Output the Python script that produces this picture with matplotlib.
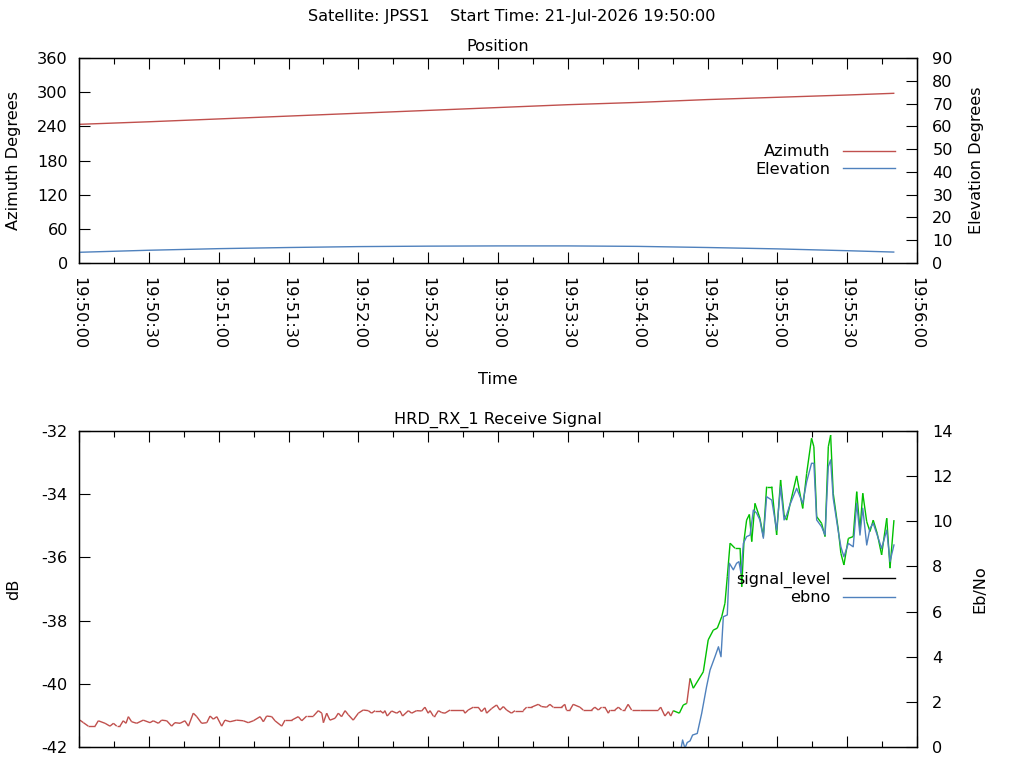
import numpy as np
import matplotlib
matplotlib.use("Agg")
import matplotlib.pyplot as plt
from matplotlib.collections import LineCollection
from matplotlib.lines import Line2D
from matplotlib.ticker import MultipleLocator, FuncFormatter, NullFormatter

# Satellite pass data (seconds after 19:50:00)
start_h, start_m = 19, 50
pos_t = [0, 30, 60, 90, 120, 150, 180, 210, 240, 270, 300, 330, 350]
azimuth = [243.5, 248, 253, 258, 263, 268, 273, 278, 282, 287, 291, 295, 298]
elevation = [4.7, 5.6, 6.3, 6.8, 7.2, 7.4, 7.5, 7.5, 7.3, 6.8, 6.2, 5.4, 4.8]

sig_t = [0.4, 1.9, 4.0, 6.9, 8.3, 11.2, 13.3, 14.8, 16.2, 17.6, 19.0, 20.2, 21.2, 22.6,
         24.8, 27.6, 30.5, 31.9, 34.1, 35.5, 37.7, 39.8, 41.2, 43.4, 45.5, 47.0, 49.1,
         50.6, 52.7, 54.9, 56.3, 57.7, 59.2, 61.3, 62.7, 64.9, 67.7, 70.6, 72.7, 74.9,
         77.8, 79.2, 80.6, 82.8, 84.2, 87.1, 88.5, 91.4, 94.2, 95.7, 97.8, 100.7, 102.8,
         104.3, 105.0, 106.4, 107.8, 110.0, 111.4, 112.8, 114.3, 115.7, 117.8, 120.0,
         122.1, 124.3, 125.7, 127.2, 129.3, 130.7, 131.4, 132.4, 134.3, 136.5, 137.9,
         139.0, 141.5, 142.9, 145.0, 147.2, 148.6, 150.0, 150.8, 152.2, 152.9, 154.4,
         155.8, 157.2, 159.4, 165.1, 165.8, 167.2, 169.4, 171.5, 172.9, 174.4, 175.1,
         177.3, 179.4, 180.8, 182.3, 183.7, 185.8, 187.3, 190.8, 192.3, 194.4, 197.3,
         198.7, 200.9, 202.3, 203.7, 207.3, 208.7, 209.4, 210.9, 212.3, 215.2, 216.6,
         220.2, 221.6, 223.1, 224.5, 225.9, 227.4, 228.1, 230.2, 231.7, 233.1, 234.5,
         235.9, 237.4, 241.0, 248.9, 249.9, 251.7, 253.2, 254.2, 255.3, 257.9, 259.6,
         261.1, 262.5, 263.9, 268.2, 270.3, 272.5, 274.2, 276.1, 277.5, 278.5, 279.7,
         281.8, 284.0, 284.7, 285.7, 286.8, 288.0, 289.0, 290.4, 292.5, 294.0, 295.4,
         297.6, 299.7, 301.4, 302.9, 304.0, 305.7, 308.3, 310.9, 312.6, 314.7, 315.7,
         316.9, 319.0, 320.5, 321.9, 322.9, 324.0, 326.2, 327.3, 328.6, 330.5, 332.6,
         334.1, 335.5, 336.7, 338.4, 339.8, 341.2, 342.9, 344.8, 347.0, 348.4, 350.1]
signal_db = [-41.15, -41.23, -41.34, -41.34, -41.17, -41.25, -41.34, -41.25, -41.34, -41.34,
             -41.17, -41.25, -41.04, -41.20, -41.25, -41.15, -41.23, -41.17, -41.25, -41.15,
             -41.17, -41.34, -41.23, -41.25, -41.17, -41.34, -40.93, -41.04, -41.25, -41.23,
             -41.02, -41.12, -41.04, -41.34, -41.15, -41.20, -41.15, -41.17, -41.23, -41.17,
             -41.04, -41.20, -41.02, -41.04, -41.17, -41.34, -41.15, -41.15, -41.04, -41.17,
             -41.02, -41.02, -40.85, -40.93, -41.23, -40.93, -41.15, -41.09, -40.93, -41.04,
             -40.85, -40.98, -41.15, -40.93,
             -40.83, -40.85, -40.93, -40.85, -40.85, -40.93, -40.85, -41.02, -40.86, -40.93,
             -40.86, -41.02, -40.85, -40.93, -40.85, -40.86, -40.74, -40.93, -40.85, -41.02,
             -41.02, -40.85, -40.91, -40.93, -40.83, -40.83, -40.93, -40.83, -40.74, -40.74,
             -40.88, -40.76, -40.93, -40.78, -40.67, -40.83, -40.72, -40.83, -40.93, -40.85,
             -40.85, -40.74, -40.74, -40.65, -40.72, -40.74, -40.65, -40.74, -40.74, -40.65,
             -40.83, -40.83, -40.65, -40.74, -40.83, -40.83, -40.74, -40.83, -40.74, -40.74,
             -40.93, -40.83, -40.83, -40.74, -40.83, -40.83, -40.65, -40.83,
             -40.83, -40.83, -40.74, -41.02, -40.88, -41.02, -40.85, -40.93, -40.67, -40.62,
             -39.83, -40.14, -39.62, -38.61, -38.30, -38.24, -37.88, -37.45, -36.61, -35.55,
             -35.71, -35.71, -36.93, -35.45, -34.82, -34.64, -35.50, -34.29, -34.76, -35.34,
             -33.76, -33.76, -35.29, -33.55, -34.66, -34.82, -34.24, -33.42, -34.45, -33.34,
             -32.23, -32.50, -34.71, -34.92, -35.34, -32.50, -32.13, -33.97, -35.13, -35.87,
             -36.24, -35.40, -35.34, -33.92, -35.13, -33.97, -34.87, -35.18, -34.82, -35.24,
             -35.92, -34.76, -36.34, -34.82]
locked_spans = [(255.3, 261.1), (262.5, 360.0)]

ebno_t = [258.2, 259.3, 260.3, 261.3, 262.5, 263.6, 265.6, 267.5, 269.6, 271.1, 273.2,
          274.7, 275.8, 276.8, 278.5, 279.4, 281.1, 282.5, 283.5, 284.4, 285.4, 286.8,
          288.3, 289.7, 291.1, 292.5, 294.0, 295.4, 297.6, 299.7, 301.4, 302.9, 304.0,
          305.4, 308.3, 310.9, 312.6, 314.7, 315.7, 316.9, 319.0, 320.5, 321.9, 322.9,
          324.0, 326.2, 327.3, 328.6, 330.5, 332.6, 334.1, 335.5, 336.7, 338.4, 339.8,
          341.2, 342.9, 344.8, 347.0, 348.4, 350.1]
ebno = [-0.3, 0.31, -0.05, 0.2, 0.27, 0.53, 0.6, 1.49, 2.67, 3.41, 4.0, 4.44, 4.0, 5.77,
        5.85, 8.14, 7.85, 8.14, 8.21, 7.70, 9.02, 9.32, 9.39, 10.5, 10.36, 10.06, 9.25,
        11.09, 10.94, 9.61, 11.53, 10.06, 10.28, 10.73, 11.46, 10.8, 11.75, 12.57, 12.57,
        10.06, 9.76, 9.39, 12.42, 12.72, 11.02, 9.54, 8.87, 8.43, 9.02, 8.87, 10.8, 9.39,
        10.58, 8.95, 9.69, 9.91, 9.39, 8.8, 9.61, 8.21, 8.95]

RED = "#c0504d"
BLUE = "#4f81bd"
GREEN = "#00c000"

plt.rcParams['font.family'] = ['DejaVu Sans']
plt.rcParams['font.size'] = 11.6
plt.rcParams['axes.unicode_minus'] = False


def hms(x, pos=None):
    total = start_h * 3600 + start_m * 60 + int(round(x))
    return "%02d:%02d:%02d" % (total // 3600, (total // 60) % 60, total % 60)


def style_x(ax, labels=True):
    ax.set_xlim(0, 360)
    ax.xaxis.set_major_locator(MultipleLocator(30))
    ax.xaxis.set_minor_locator(MultipleLocator(15))
    if labels:
        ax.xaxis.set_major_formatter(FuncFormatter(hms))
    else:
        ax.xaxis.set_major_formatter(NullFormatter())
    ax.tick_params(axis='x', which='both', direction='in', top=True, width=0.8)
    ax.tick_params(axis='x', which='major', length=8, pad=10, labelrotation=-90)
    ax.tick_params(axis='x', which='minor', length=4)
    for lab in ax.get_xticklabels():
        lab.set_va('top')


fig = plt.figure(figsize=(10.24, 7.68), dpi=100)
fig.text(0.5, 1 - 17 / 768, "Satellite: JPSS1    Start Time: 21-Jul-2026 19:50:00",
         ha='center', va='center')

# ---- Position plot ----
ax1 = fig.add_axes([79 / 1024, 1 - 263 / 768, 838 / 1024, 205 / 768])
ax1.plot(pos_t, azimuth, color=RED, lw=1.0)
ax1.set_ylim(0, 360)
ax1.yaxis.set_major_locator(MultipleLocator(60))
ax1.tick_params(axis='y', direction='in', length=8, width=0.8, pad=8)
style_x(ax1)
ax1.set_xlabel("Time", va='center')
ax1.xaxis.set_label_coords(0.5, (263 - 379) / 205)
ax1.set_ylabel("Azimuth Degrees", va='center')
ax1.yaxis.set_label_coords((14 - 79) / 838, 0.5)
ax1.text(0.5, 1 + 12 / 205, "Position", ha='center', va='center', transform=ax1.transAxes)

ax1b = ax1.twinx()
ax1b.plot(pos_t, elevation, color=BLUE, lw=1.0)
ax1b.set_ylim(0, 90)
ax1b.yaxis.set_major_locator(MultipleLocator(10))
ax1b.tick_params(axis='y', direction='in', length=8, width=0.8, pad=11)
ax1b.set_ylabel("Elevation Degrees", va='center')
ax1b.yaxis.set_label_coords((977 - 79) / 838, 0.5)

h1 = [Line2D([], [], color=RED, lw=1.0), Line2D([], [], color=BLUE, lw=1.0)]
ax1b.legend(h1, ["Azimuth", "Elevation"], loc='center right',
            bbox_to_anchor=((895 - 79) / 838, 0.5), frameon=False, markerfirst=False,
            borderpad=0, borderaxespad=0, handlelength=3.2, handletextpad=0.8,
            labelspacing=0.15)

# ---- Receive signal plot ----
ax2 = fig.add_axes([79 / 1024, 1 - 747 / 768, 838 / 1024, 316 / 768])
pts = np.column_stack([sig_t, signal_db])
segs = np.stack([pts[:-1], pts[1:]], axis=1)
mids = (pts[:-1, 0] + pts[1:, 0]) / 2
seg_colors = [GREEN if any(a <= m <= b for a, b in locked_spans) else RED for m in mids]
ax2.add_collection(LineCollection(segs, colors=seg_colors, linewidths=1.0))
ax2.set_ylim(-42, -32)
ax2.yaxis.set_major_locator(MultipleLocator(2))
ax2.tick_params(axis='y', direction='in', length=8, width=0.8, pad=8)
style_x(ax2, labels=False)
ax2.set_ylabel("dB", va='center')
ax2.yaxis.set_label_coords((14 - 79) / 838, 0.5)
ax2.text(0.5, 1 + 11 / 316, "HRD_RX_1 Receive Signal", ha='center', va='center',
         transform=ax2.transAxes)

ax2b = ax2.twinx()
ax2b.plot(ebno_t, ebno, color=BLUE, lw=1.0)
ax2b.set_ylim(0, 14)
ax2b.yaxis.set_major_locator(MultipleLocator(2))
ax2b.tick_params(axis='y', direction='in', length=8, width=0.8, pad=11)
ax2b.set_ylabel("Eb/No", va='center')
ax2b.yaxis.set_label_coords((980 - 79) / 838, 0.5)

h2 = [Line2D([], [], color='black', lw=1.0), Line2D([], [], color=BLUE, lw=1.0)]
ax2b.legend(h2, ["signal_level", "ebno"], loc='center right',
            bbox_to_anchor=((895 - 79) / 838, (747 - 588.5) / 316), frameon=False,
            markerfirst=False, borderpad=0, borderaxespad=0, handlelength=3.2,
            handletextpad=0.8, labelspacing=0.15)

for ax in (ax1, ax1b, ax2, ax2b):
    for sp in ax.spines.values():
        sp.set_linewidth(0.9)

fig.savefig("out.png", dpi=100)
